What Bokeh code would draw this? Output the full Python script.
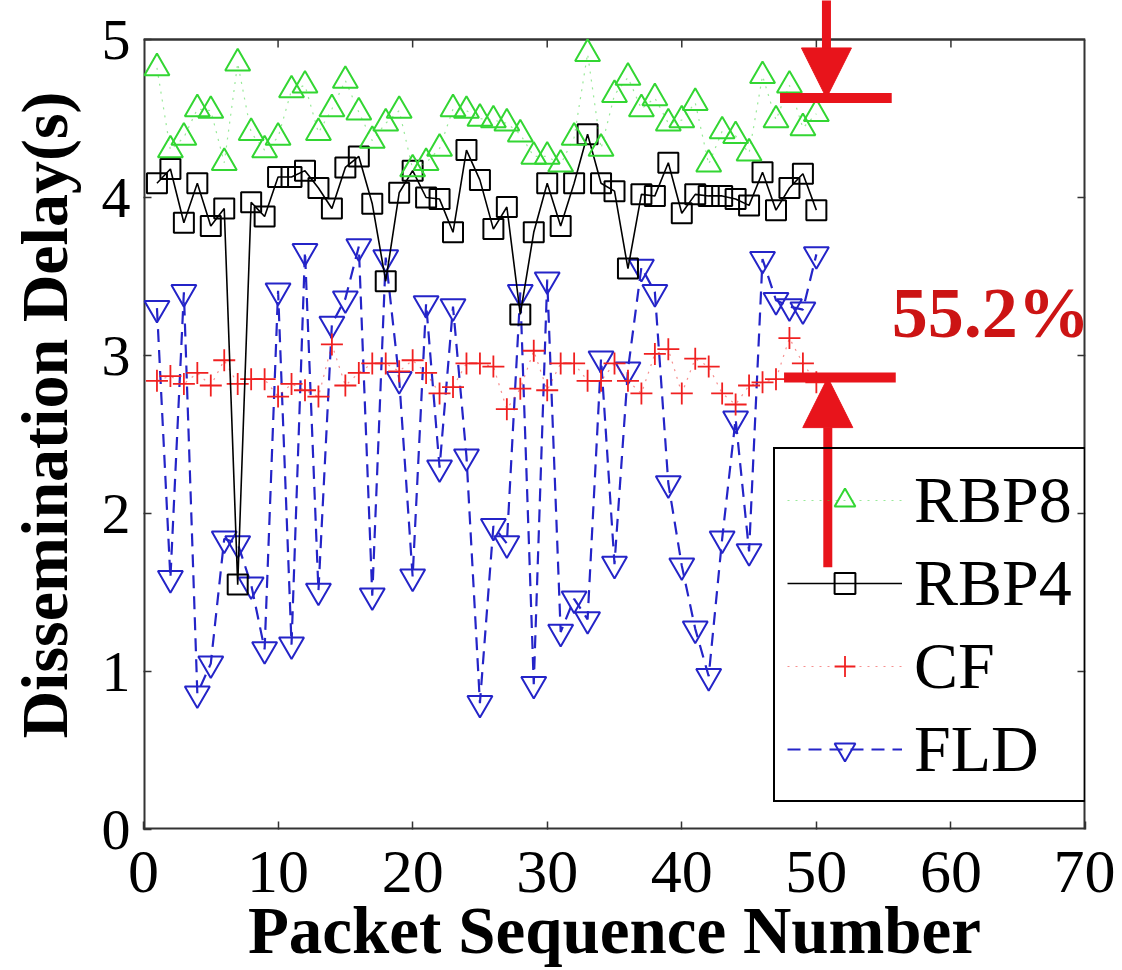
from bokeh.plotting import figure
from bokeh.models import (Range1d, FixedTicker, Legend, LegendItem, Label,
                          Arrow, NormalHead)
from bokeh.embed import file_html
from bokeh.resources import INLINE

# ---------------- data ----------------
packets = list(range(1, 51))

rbp8 = [4.82, 4.30, 4.38, 4.56, 4.55, 4.22, 4.85, 4.41, 4.30, 4.38,
        4.68, 4.71, 4.41, 4.56, 4.74, 4.54, 4.36, 4.47, 4.55, 4.18,
        4.22, 4.31, 4.56, 4.55, 4.50, 4.49, 4.47, 4.40, 4.26, 4.26,
        4.21, 4.38, 4.91, 4.31, 4.65, 4.76, 4.56, 4.63, 4.47, 4.49,
        4.60, 4.21, 4.42, 4.39, 4.28, 4.77, 4.49, 4.71, 4.44, 4.53]

rbp4 = [4.09, 4.18, 3.84, 4.09, 3.82, 3.93, 1.55, 3.97, 3.88, 4.13,
        4.13, 4.17, 4.06, 3.93, 4.19, 4.26, 3.96, 3.47, 4.03, 4.17,
        4.00, 3.99, 3.78, 4.30, 4.11, 3.80, 3.94, 3.26, 3.78, 4.09,
        3.82, 4.09, 4.40, 4.09, 4.04, 3.55, 4.02, 4.01, 4.22, 3.90,
        4.02, 4.01, 4.01, 3.99, 3.95, 4.16, 3.92, 4.06, 4.15, 3.92]

cf = [2.84, 2.87, 2.82, 2.89, 2.81, 2.97, 2.82, 2.85, 2.85, 2.74,
      2.82, 2.78, 2.74, 3.07, 2.81, 2.89, 2.95, 2.95, 2.90, 2.97,
      2.89, 2.76, 2.80, 2.95, 2.95, 2.93, 2.66, 2.79, 3.03, 2.78,
      2.95, 2.95, 2.84, 2.84, 2.95, 2.84, 2.76, 3.01, 3.04, 2.76,
      2.98, 2.93, 2.76, 2.69, 2.81, 2.83, 2.85, 3.11, 2.95, 2.83]

fld = [3.30, 1.59, 3.40, 0.86, 1.05, 1.84, 1.81, 1.55, 1.14, 3.41,
       1.17, 3.66, 1.51, 3.20, 3.36, 3.69, 1.48, 3.62, 2.85, 1.60,
       3.33, 2.29, 3.31, 2.36, 0.80, 1.92, 1.81, 3.40, 0.92, 3.48,
       1.25, 1.46, 1.33, 2.98, 1.68, 2.91, 3.56, 3.40, 2.19, 1.67,
       1.27, 0.97, 1.84, 2.60, 1.76, 3.61, 3.35, 3.31, 3.29, 3.64]

x_ticks = [0, 10, 20, 30, 40, 50, 60, 70]
y_ticks = [0, 1, 2, 3, 4, 5]
x_title = "Packet Sequence Number"
y_title = "Dissemination Delay(s)"

# annotation levels (improvement arrows)
top_level = 4.63      # RBP8 level
bottom_level = 2.86   # CF level
improvement_text = "55.2%"

# ---------------- layout constants ----------------
X_MIN, X_MAX = 0, 70
Y_MIN, Y_MAX = 0, 5
FRAME_W, FRAME_H = 942, 829
PX_PER_Y = 158.0
Y_TOP = FRAME_H / PX_PER_Y          # frame extends above the box for the arrow
PX_PER_X = FRAME_W / (X_MAX - X_MIN)

FONT = "Liberation Serif"
GREEN = "#33d633"
BLACK = "#000000"
RED = "#f02020"
BLUE = "#2424c8"
ARROW_RED = "#e8141b"
BORDER = "#333333"

p = figure(frame_width=FRAME_W, frame_height=FRAME_H,
           x_range=Range1d(X_MIN, X_MAX), y_range=Range1d(Y_MIN, Y_TOP),
           output_backend="svg", toolbar_location=None,
           min_border_left=143, min_border_right=30,
           min_border_top=0, min_border_bottom=140,
           background_fill_color="white", border_fill_color="white")

p.grid.visible = False
p.outline_line_color = None

for ax in (p.xaxis, p.yaxis):
    ax.axis_line_color = None
    ax.major_tick_in = 8
    ax.major_tick_out = 0
    ax.minor_tick_line_color = None
    ax.major_tick_line_color = BORDER
    ax.major_tick_line_width = 1.5
    ax.major_label_text_font = FONT
    ax.major_label_text_color = "black"
    ax.axis_label_text_font = FONT
    ax.axis_label_text_font_style = "bold"
    ax.axis_label_text_color = "black"

p.xaxis.ticker = FixedTicker(ticks=x_ticks)
p.yaxis.ticker = FixedTicker(ticks=y_ticks)
p.xaxis.major_label_text_font_size = "62px"
p.yaxis.major_label_text_font_size = "58px"
p.xaxis.axis_label = x_title
p.yaxis.axis_label = y_title
p.xaxis.axis_label_text_font_size = "67px"
p.yaxis.axis_label_text_font_size = "66px"
p.xaxis.major_label_standoff = 22
p.xaxis.axis_label_standoff = -2
p.yaxis.major_label_standoff = 13
p.yaxis.axis_label_standoff = 18

# box border (drawn manually so the frame can extend above it)
p.segment(x0=[X_MIN, X_MAX, X_MIN], y0=[Y_MIN, Y_MIN, Y_MIN],
          x1=[X_MIN, X_MAX, X_MAX], y1=[Y_MAX, Y_MAX, Y_MIN],
          line_color=BORDER, line_width=4)
p.segment(x0=[X_MIN], y0=[Y_MAX], x1=[X_MAX], y1=[Y_MAX],
          line_color=BORDER, line_width=2.5)
# top and right inward ticks
top_ticks = x_ticks[1:-1]
p.segment(x0=top_ticks, y0=[Y_MAX] * len(top_ticks), x1=top_ticks,
          y1=[Y_MAX - 8 / PX_PER_Y] * len(top_ticks),
          line_color=BORDER, line_width=1.5)
right_ticks = y_ticks[1:-1]
p.segment(x0=[X_MAX] * len(right_ticks), y0=right_ticks,
          x1=[X_MAX - 8 / PX_PER_X] * len(right_ticks), y1=right_ticks,
          line_color=BORDER, line_width=1.5)

# ---------------- series ----------------
fld_l = p.line(packets, fld, line_color=BLUE, line_width=2.2, line_dash="13 8")
fld_m = p.scatter(packets, fld, marker="inverted_triangle", size=25,
                  line_color=BLUE, fill_color=None, line_width=2)

cf_l = p.line(packets, cf, line_color=RED, line_width=1.2, line_dash="2 6", line_alpha=0.5)
cf_m = p.scatter(packets, cf, marker="cross", size=22, line_color=RED, line_width=1.8)

rbp4_l = p.line(packets, rbp4, line_color=BLACK, line_width=1.6)
rbp4_m = p.scatter(packets, rbp4, marker="square", size=20,
                   line_color=BLACK, fill_color=None, line_width=2)

rbp8_l = p.line(packets, rbp8, line_color=GREEN, line_width=1.2, line_dash="2 6", line_alpha=0.5)
rbp8_m = p.scatter(packets, rbp8, marker="triangle", size=25,
                   line_color=GREEN, fill_color=None, line_width=2)

# improvement bars
p.segment(x0=[47.3, 47.6], y0=[top_level, bottom_level],
          x1=[55.6, 55.9], y1=[top_level, bottom_level],
          line_color=ARROW_RED, line_width=10)

# arrows
p.add_layout(Arrow(end=NormalHead(size=50, fill_color=ARROW_RED, line_color=ARROW_RED),
                   x_start=50.75, y_start=Y_TOP + 0.2, x_end=50.75, y_end=top_level,
                   line_color=ARROW_RED, line_width=9))
p.add_layout(Arrow(end=NormalHead(size=50, fill_color=ARROW_RED, line_color=ARROW_RED),
                   x_start=50.85, y_start=1.66, x_end=50.85, y_end=bottom_level,
                   line_color=ARROW_RED, line_width=9))

# legend: transparent box so the arrow shaft shows through it
legend = Legend(items=[
    LegendItem(label="RBP8", renderers=[rbp8_l, rbp8_m]),
    LegendItem(label="RBP4", renderers=[rbp4_l, rbp4_m]),
    LegendItem(label="CF", renderers=[cf_l, cf_m]),
    LegendItem(label="FLD", renderers=[fld_l, fld_m]),
], location=(630, 27), label_text_font=FONT, label_text_font_size="66px",
    label_text_color="black",
    glyph_width=115, glyph_height=52, label_height=78, spacing=5,
    padding=12, label_standoff=12, margin=0,
    border_line_color="black", border_line_width=2, border_line_alpha=1.0,
    background_fill_color="white", background_fill_alpha=0.0)
p.add_layout(legend)

p.add_layout(Label(x=55.6, y=3.27, text=improvement_text, text_font=FONT,
                   text_font_style="bold", text_font_size="72px",
                   text_color="#cc1414", text_baseline="alphabetic"))

open("out.html", "w").write(file_html(p, INLINE))
